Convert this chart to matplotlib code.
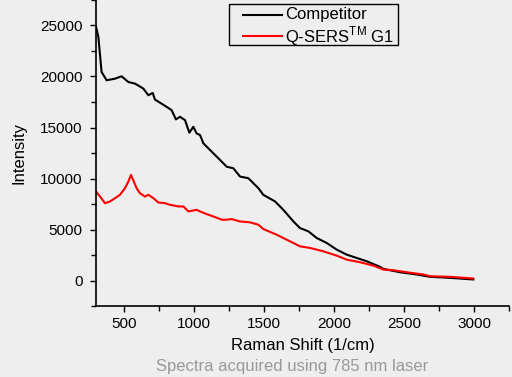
import matplotlib
matplotlib.use("Agg")
import matplotlib.pyplot as plt
from matplotlib.ticker import MultipleLocator
from matplotlib.patches import Rectangle
from matplotlib.lines import Line2D

plt.rcParams['font.family'] = ['Liberation Sans', 'DejaVu Sans']

# spectra
comp_x = [300, 317, 340, 376, 436, 483, 531, 579, 638, 674, 705, 721, 805, 840, 871,
          900, 936, 967, 995, 1019, 1043, 1067, 1138, 1186, 1233, 1281, 1329, 1388,
          1460, 1495, 1579, 1638, 1710, 1757, 1817, 1876, 1948, 2019, 2090, 2162,
          2233, 2329, 2352, 2471, 2590, 2686, 2829, 2995]
comp_y = [24900, 23860, 20440, 19630, 19790, 20020, 19460, 19300, 18820, 18160, 18390,
          17740, 17020, 16700, 15790, 16050, 15720, 14490, 15070, 14420, 14260, 13450,
          12470, 11820, 11160, 11000, 10190, 10030, 9050, 8400, 7750, 6930, 5790, 5140,
          4820, 4170, 3680, 3030, 2540, 2210, 1890, 1340, 1140, 810, 590, 360, 260, 100]

qsers_x = [300, 329, 364, 400, 436, 471, 507, 531, 550, 590, 614, 650, 674, 710, 745,
           793, 829, 888, 924, 960, 1019, 1043, 1090, 1138, 1198, 1233, 1269, 1329,
           1400, 1460, 1495, 1590, 1686, 1757, 1829, 1924, 2019, 2090, 2186, 2281,
           2352, 2424, 2519, 2638, 2686, 2829, 2995]
qsers_y = [8720, 8230, 7580, 7750, 8070, 8400, 9050, 9700, 10350, 9050, 8560, 8230,
           8400, 8070, 7650, 7580, 7420, 7260, 7260, 6770, 6930, 6770, 6510, 6280,
           5960, 5960, 6020, 5790, 5700, 5470, 5050, 4490, 3840, 3350, 3190, 2860,
           2440, 2050, 1790, 1460, 1070, 1010, 810, 590, 420, 360, 200]

labels = ['Competitor', 'Q-SERS$^{\\mathregular{TM}}$ G1']
colors = ['black', '#ff0000']

W, H = 512, 377
bg = '#eeeeee'
fig = plt.figure(figsize=(W / 100, H / 100), dpi=100, facecolor=bg)
ax = fig.add_axes([96 / W, 1 - 306 / H, 413 / W, 306 / H], facecolor=bg)

ax.plot(comp_x, comp_y, color=colors[0], lw=1.5)
ax.plot(qsers_x, qsers_y, color=colors[1], lw=1.5)

ax.set_xlim(300, 3250)
ax.set_ylim(-2500, 27500)
ax.xaxis.set_major_locator(MultipleLocator(500))
ax.xaxis.set_minor_locator(MultipleLocator(250))
ax.yaxis.set_major_locator(MultipleLocator(5000))
ax.yaxis.set_minor_locator(MultipleLocator(2500))

for s in ['top', 'right']:
    ax.spines[s].set_visible(False)
for s in ['left', 'bottom']:
    ax.spines[s].set_linewidth(1.2)

ax.tick_params(which='major', direction='out', length=4.5, width=1.0, labelsize=11)
ax.tick_params(which='minor', direction='out', length=3.5, width=1.0)
ax.tick_params(axis='y', pad=5)

ax.set_xlabel('Raman Shift (1/cm)', fontsize=12, labelpad=5)
ax.set_ylabel('Intensity', fontsize=12, labelpad=10)

# legend box drawn in figure pixels to match the original layout
fx = lambda px: px / W
fy = lambda py: 1 - py / H
fig.add_artist(Rectangle((fx(229), fy(45)), fx(398) - fx(229), fy(4) - fy(45),
                         transform=fig.transFigure, facecolor=bg,
                         edgecolor='black', lw=1.0))
for i, (lab, col) in enumerate(zip(labels, colors)):
    yy = fy(15 + 21 * i)
    fig.add_artist(Line2D([fx(243), fx(282)], [yy, yy], color=col, lw=1.5,
                          transform=fig.transFigure))
    fig.text(fx(285), yy, lab, ha='left', va='center', fontsize=12)

fig.text(292 / W, 1 - 367 / H, 'Spectra acquired using 785 nm laser',
         ha='center', va='center', fontsize=12, color='#999999')

fig.savefig('out.png', dpi=100, facecolor=bg)
